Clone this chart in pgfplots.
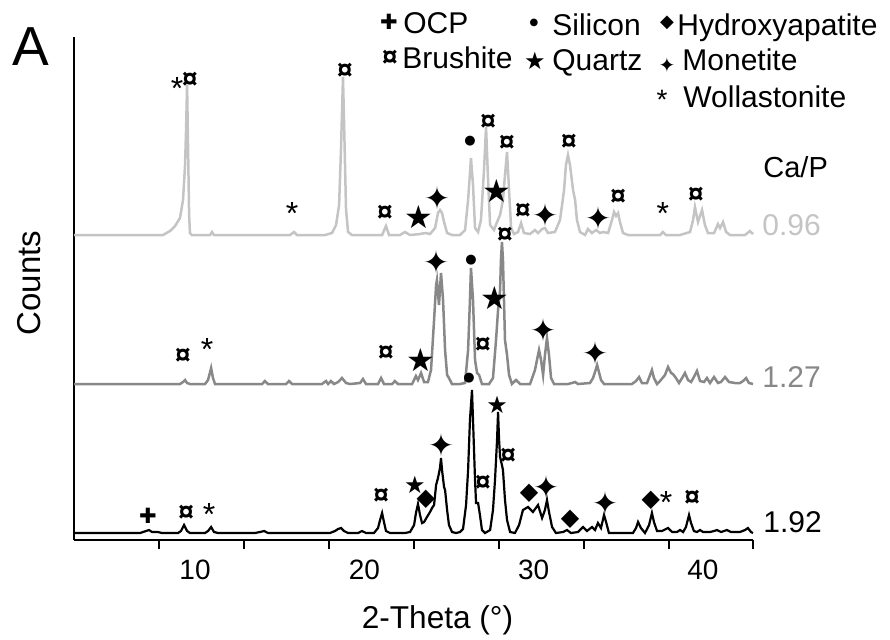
\documentclass[border=0pt]{standalone}
\usepackage{fontspec}
\setmainfont{Liberation Sans}
\newfontfamily\sym{DejaVu Sans}
\usepackage{pgfplots}
\pgfplotsset{compat=1.18}
\definecolor{ltgray}{RGB}{196,196,196}
\definecolor{mdgray}{RGB}{136,136,136}
\newcommand{\fs}[1]{\fontsize{#1}{#1}\selectfont}
\pgfplotsset{
  phase/.style 2 args={only marks, mark=text, text mark={#1}, text mark as node=true,
    text mark style={font=#2, inner sep=0pt, anchor=center}},
}
\begin{document}
\begin{tikzpicture}[x=0.5pt,y=-0.5pt]
\path[use as bounding box] (0,0) rectangle (890,639);
\begin{axis}[
 at={(37pt,-270pt)}, anchor=south west,
 scale only axis, width=339.5pt, height=251.5pt,
 xmin=2.85, xmax=42.96, ymin=0, ymax=503,
 axis lines*=left,
 axis line style={black, line width=0.8pt},
 ytick=\empty,
 xtick={7.87,12.89,17.92,22.94,27.96,32.98,38.00,42.96},
 xticklabels={},
 tick align=outside, major tick length=4.5pt,
 tick style={black, line width=0.8pt},
 extra x ticks={10,20,30,40},
 extra x tick labels={10,20,30,40},
 extra x tick style={major tick length=0pt, tick style={draw=none}},
 xticklabel style={font=\fs{14}, anchor=center, yshift=-15pt},
 clip=false,
]
% Ca/P = 0.96
\addplot[ltgray, line width=1.25pt] coordinates {
(2.85,305)(7.34,305)(8.11,305)(8.52,309)(8.82,314)(9.11,322)(9.29,340)(9.41,375)(9.47,410)(9.53,455)(9.59,390)(9.65,325)(9.70,307)(9.82,305)(10.89,305)(11.00,308)(11.12,305)(15.61,305)(15.85,308)(16.02,305)(17.68,305)(18.09,307)(18.33,315)(18.51,335)(18.62,390)(18.74,463)(18.80,420)(18.92,330)(19.04,308)(19.27,305)(21.05,305)(21.28,314)(21.46,305)(22.11,305)(22.40,308)(22.70,305)(23.29,306)(23.59,307)(23.88,306)(24.18,312)(24.35,327)(24.47,330)(24.59,327)(24.71,318)(24.89,307)(25.18,305)(25.65,305)(25.95,310)(26.13,340)(26.30,382)(26.42,355)(26.54,312)(26.72,308)(26.89,320)(27.07,370)(27.19,413)(27.31,360)(27.43,315)(27.66,310)(27.84,318)(28.02,325)(28.19,340)(28.31,365)(28.43,388)(28.55,350)(28.67,312)(28.84,306)(29.08,308)(29.26,317)(29.43,307)(29.79,306)(30.08,310)(30.26,307)(30.50,311)(30.67,312)(30.85,307)(31.26,308)(31.56,320)(31.80,350)(31.91,375)(32.03,385)(32.15,375)(32.33,350)(32.45,340)(32.56,320)(32.74,308)(33.04,305)(33.21,311)(33.45,307)(33.69,310)(33.92,307)(34.10,308)(34.40,307)(34.63,320)(34.75,328)(34.87,324)(34.99,327)(35.10,318)(35.28,307)(35.58,305)(37.47,305)(37.64,308)(37.82,305)(38.65,305)(39.24,308)(39.42,320)(39.53,333)(39.71,318)(39.83,324)(39.95,330)(40.12,315)(40.30,307)(40.66,307)(40.89,316)(41.01,312)(41.19,318)(41.37,308)(41.60,305)(42.49,305)(42.78,309)(42.96,306)
};
% Ca/P = 1.27
\addplot[mdgray, line width=1.25pt] coordinates {
(2.85,156)(9.11,156)(9.29,158)(9.41,160)(9.53,157)(9.70,156)(10.59,156)(10.77,160)(10.95,172)(11.06,162)(11.18,156)(13.96,156)(14.13,159)(14.31,156)(15.38,156)(15.55,159)(15.73,156)(17.50,156)(17.74,159)(17.86,156)(18.03,159)(18.21,156)(18.45,158)(18.68,162)(18.92,157)(19.16,156)(19.75,157)(19.92,161)(20.10,156)(20.81,156)(20.99,162)(21.16,156)(21.64,156)(21.81,159)(21.99,156)(22.82,156)(23.05,164)(23.17,160)(23.35,167)(23.53,158)(23.76,158)(23.94,170)(24.12,220)(24.24,255)(24.29,260)(24.41,235)(24.53,267)(24.65,240)(24.77,190)(24.89,165)(25.00,162)(25.18,156)(25.65,156)(25.95,157)(26.13,190)(26.24,240)(26.30,272)(26.42,240)(26.54,180)(26.66,167)(26.78,165)(26.95,156)(27.37,156)(27.60,162)(27.78,200)(27.90,230)(28.02,250)(28.07,280)(28.13,298)(28.19,280)(28.25,240)(28.31,200)(28.43,185)(28.55,165)(28.72,156)(28.96,160)(29.20,156)(29.79,156)(30.08,170)(30.32,190)(30.44,180)(30.56,165)(30.67,185)(30.79,202)(30.91,185)(31.03,162)(31.21,156)(32.03,156)(32.27,157)(32.45,158)(32.62,156)(33.33,157)(33.51,162)(33.63,168)(33.75,175)(33.86,168)(33.98,160)(34.16,156)(35.81,156)(36.05,159)(36.23,163)(36.40,157)(36.70,157)(36.88,165)(36.99,170)(37.11,162)(37.29,156)(37.47,159)(37.76,165)(37.94,173)(38.12,167)(38.23,166)(38.41,162)(38.59,157)(38.77,162)(38.94,167)(39.12,160)(39.30,158)(39.47,163)(39.65,169)(39.83,159)(40.07,158)(40.24,162)(40.42,157)(40.66,163)(40.89,157)(41.07,158)(41.31,163)(41.54,158)(41.90,157)(42.19,157)(42.37,159)(42.55,162)(42.72,157)(42.96,156)
};
% Ca/P = 1.92
\addplot[black, line width=1.1pt] coordinates {
(2.85,7)(6.75,7)(7.11,9)(7.28,10)(7.46,8)(7.81,8)(8.05,7)(9.00,7)(9.17,9)(9.35,15)(9.53,9)(9.70,7)(10.59,7)(10.77,9)(10.95,13)(11.12,8)(11.36,7)(13.54,7)(13.84,8)(14.08,9)(14.31,7)(17.97,7)(18.27,9)(18.45,11)(18.62,12)(18.80,9)(19.04,7)(19.63,7)(19.86,9)(20.10,7)(20.57,7)(20.81,12)(20.93,20)(21.05,27)(21.16,18)(21.28,9)(21.52,7)(22.40,7)(22.70,8)(22.94,15)(23.05,27)(23.17,36)(23.29,25)(23.41,17)(23.53,18)(23.70,23)(23.88,28)(24.00,32)(24.12,35)(24.24,55)(24.35,62)(24.47,72)(24.53,82)(24.59,70)(24.71,53)(24.77,50)(24.89,30)(25.00,15)(25.18,8)(25.42,7)(25.65,8)(25.83,11)(26.01,35)(26.13,70)(26.24,120)(26.36,150)(26.42,120)(26.54,60)(26.60,37)(26.72,37)(26.83,25)(26.95,10)(27.13,7)(27.43,10)(27.60,30)(27.72,60)(27.84,100)(27.90,128)(27.96,100)(28.02,83)(28.13,75)(28.19,70)(28.31,40)(28.43,20)(28.61,8)(28.90,7)(29.14,15)(29.37,30)(29.67,33)(29.96,28)(30.26,35)(30.50,22)(30.67,30)(30.79,40)(30.91,28)(31.09,13)(31.32,7)(31.74,8)(31.97,10)(32.21,7)(32.62,8)(32.92,13)(33.15,9)(33.45,13)(33.63,10)(33.80,17)(33.98,12)(34.16,25)(34.28,18)(34.45,7)(35.87,7)(36.05,12)(36.17,18)(36.34,12)(36.58,7)(36.82,15)(36.99,27)(37.11,18)(37.29,9)(37.58,9)(37.94,12)(38.18,8)(38.47,8)(38.65,10)(38.83,8)(39.00,13)(39.18,25)(39.30,17)(39.47,9)(39.65,8)(39.83,10)(40.01,8)(40.42,8)(40.66,9)(40.83,10)(41.07,8)(41.42,10)(41.66,8)(42.19,8)(42.49,10)(42.66,12)(42.84,8)(42.96,7)
};
% phase markers
\addplot[phase={¤}{\fs{14}\bfseries}] coordinates {
(9.70,460)(18.86,469)(21.22,327)(27.31,418)(28.43,397)(29.37,329)(32.09,398)(34.99,343)(39.59,345)
(9.29,184)(21.28,187)(28.31,305)(27.01,195)
(9.47,27)(20.99,44)(27.01,57)(28.49,84)(39.36,42)};
\addplot[phase={*}{\fs{16}}] coordinates {
(8.94,452)(15.73,327)(37.64,327)(10.71,191)(10.83,26)(37.82,38)};
\addplot[phase={★}{\sym\fs{16}}] coordinates {
(23.23,323)(27.84,349)(23.35,180)(27.72,242)};
\addplot[phase={★}{\sym\fs{12}}] coordinates {
(22.99,55)(27.84,135)};
\addplot[phase={✦}{\sym\fs{15.5}}] coordinates {
(24.35,342)(30.73,325)(33.86,322)(24.29,278)(30.61,210)(33.63,187)(24.53,95)(30.79,53)(34.22,37)};
\addplot[phase={●}{\sym\fs{6.5}}] coordinates {
(26.24,399)(26.30,280)(26.18,162)};
\addplot[phase={◆}{\sym\fs{12}}] coordinates {
(23.64,41)(29.73,47)(32.15,21)(36.93,40)};
\addplot[phase={✚}{\sym\fs{10.5}}] coordinates {(7.22,24)};
\end{axis}
% panel letter and axis titles
\node[anchor=base west, inner sep=0pt, font=\fs{27.5}] at (12,65) {A};
\node[rotate=90, inner sep=0pt, font=\fs{16.5}] at (29,283) {Counts};
\node[anchor=base, inner sep=0pt, font=\fs{15.8}] at (437.5,628) {2-Theta (°)};
% legend
\node[font=\sym\fs{10.5}] at (389,22) {✚};
\node[anchor=base west, inner sep=0pt, font=\fs{15}] at (403,33) {OCP};
\node[font=\fs{14}\bfseries] at (390,58) {¤};
\node[anchor=base west, inner sep=0pt, font=\fs{15}] at (402,68) {Brushite};
\node[font=\sym\fs{5}] at (534,23) {●};
\node[anchor=base west, inner sep=0pt, font=\fs{15}] at (552,35) {Silicon};
\node[font=\sym\fs{12}] at (535,61) {★};
\node[anchor=base west, inner sep=0pt, font=\fs{15}] at (552,70) {Quartz};
\node[font=\sym\fs{9}] at (667,23) {◆};
\node[anchor=base west, inner sep=0pt, font=\fs{15}] at (677,35) {Hydroxyapatite};
\node[font=\sym\fs{10}] at (667,65) {✦};
\node[anchor=base west, inner sep=0pt, font=\fs{15}] at (682,70) {Monetite};
\node[font=\fs{14}] at (662,100) {*};
\node[anchor=base west, inner sep=0pt, font=\fs{15}] at (683,107) {Wollastonite};
% sample labels
\node[anchor=base west, inner sep=0pt, font=\fs{14.5}] at (763,177) {Ca/P};
\node[anchor=base west, inner sep=0pt, font=\fs{15}, text=ltgray] at (762,235) {0.96};
\node[anchor=base west, inner sep=0pt, font=\fs{15}, text=mdgray] at (762,387) {1.27};
\node[anchor=base west, inner sep=0pt, font=\fs{15}] at (763,532) {1.92};
\end{tikzpicture}
\end{document}
